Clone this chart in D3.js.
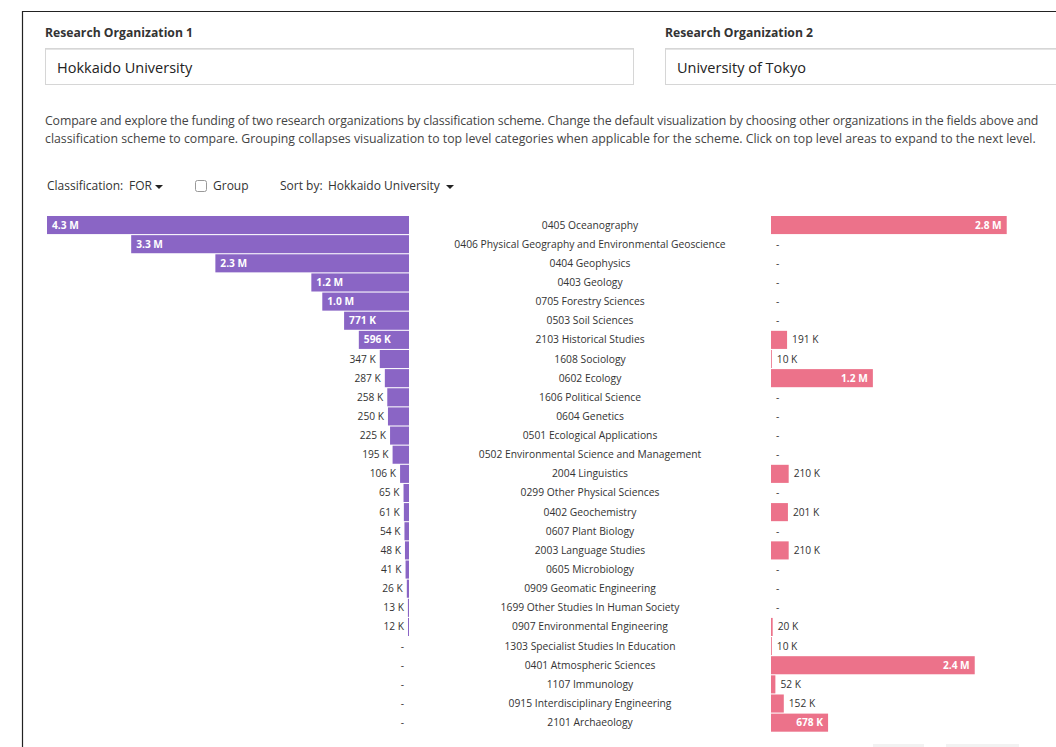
<!DOCTYPE html>
<html>
<head>
<meta charset="utf-8">
<script src="https://cdn.jsdelivr.net/npm/d3@7"></script>
<style>
  html, body { margin: 0; padding: 0; background: #fff; }
  svg { display: block; font-family: "Open Sans", "Noto Sans", sans-serif; }
</style>
</head>
<body>
<svg id="chart" width="1056" height="747"></svg>
<script>
const org1 = "Hokkaido University";
const org2 = "University of Tokyo";

const categories = [
  "0405 Oceanography",
  "0406 Physical Geography and Environmental Geoscience",
  "0404 Geophysics",
  "0403 Geology",
  "0705 Forestry Sciences",
  "0503 Soil Sciences",
  "2103 Historical Studies",
  "1608 Sociology",
  "0602 Ecology",
  "1606 Political Science",
  "0604 Genetics",
  "0501 Ecological Applications",
  "0502 Environmental Science and Management",
  "2004 Linguistics",
  "0299 Other Physical Sciences",
  "0402 Geochemistry",
  "0607 Plant Biology",
  "2003 Language Studies",
  "0605 Microbiology",
  "0909 Geomatic Engineering",
  "1699 Other Studies In Human Society",
  "0907 Environmental Engineering",
  "1303 Specialist Studies In Education",
  "0401 Atmospheric Sciences",
  "1107 Immunology",
  "0915 Interdisciplinary Engineering",
  "2101 Archaeology"
];

const org1Values = [
  4300000, 3300000, 2300000, 1160000, 1030000, 771000, 596000, 347000, 287000,
  258000, 250000, 225000, 195000, 106000, 65000, 61000, 54000, 48000, 41000,
  26000, 13000, 12000, 0, 0, 0, 0, 0
];

const org2Values = [
  2800000, 0, 0, 0, 0, 0, 191000, 10000, 1210000,
  0, 0, 0, 0, 210000, 0, 201000, 0, 210000, 0,
  0, 0, 20000, 10000, 2420000, 52000, 152000, 678000
];

const introLines = [
  "Compare and explore the funding of two research organizations by classification scheme. Change the default visualization by choosing other organizations in the fields above and",
  "classification scheme to compare. Grouping collapses visualization to top level categories when applicable for the scheme. Click on top level areas to expand to the next level."
];

const svg = d3.select("#chart");
const purple = "#8a65c5";
const pink = "#ec728a";

// frame
svg.append("line").attr("x1", 22.5).attr("x2", 22.5).attr("y1", 11).attr("y2", 747).attr("stroke", "#222").attr("stroke-width", 1.2);
svg.append("line").attr("x1", 22).attr("x2", 1056).attr("y1", 11.5).attr("y2", 11.5).attr("stroke", "#222").attr("stroke-width", 1.2);

// header fields
const fields = [{label: "Research Organization 1", value: org1, x: 45, w: 588},
                {label: "Research Organization 2", value: org2, x: 665, w: 420}];
fields.forEach(f => {
  svg.append("text").attr("x", f.x).attr("y", 37).attr("font-size", 12.2).attr("font-weight", 700)
    .attr("fill", "#333").text(f.label);
  svg.append("rect").attr("x", f.x + 0.5).attr("y", 48.5).attr("width", f.w).attr("height", 36)
    .attr("fill", "#fff").attr("stroke", "#d6d6d6");
  svg.append("line").attr("x1", f.x + 1).attr("x2", f.x + f.w).attr("y1", 49.5).attr("y2", 49.5)
    .attr("stroke", "#e4e4e4");
  svg.append("text").attr("x", f.x + 12).attr("y", 73).attr("font-size", 14.5)
    .attr("fill", "#222").text(f.value);
});

// intro
introLines.forEach((t, i) => {
  const tx = svg.append("text").attr("x", 45).attr("y", 125 + i * 18).attr("font-size", 12.3)
    .attr("fill", "#444").text(t);
  if (i === 0) tx.attr("letter-spacing", -0.13);
});

// controls
const ctrl = svg.append("g").attr("font-size", 12).attr("fill", "#333");
ctrl.append("text").attr("x", 47).attr("y", 190).text("Classification:");
ctrl.append("text").attr("x", 129).attr("y", 190).text("FOR");
ctrl.append("path").attr("d", "M155,185 h8 l-4,4 z").attr("fill", "#222");
ctrl.append("rect").attr("x", 195.5).attr("y", 180.5).attr("width", 11).attr("height", 11).attr("rx", 2)
  .attr("fill", "#fff").attr("stroke", "#999");
ctrl.append("text").attr("x", 213).attr("y", 190).text("Group");
ctrl.append("text").attr("x", 280).attr("y", 190).text("Sort by:");
ctrl.append("text").attr("x", 328).attr("y", 190).text(org1);
ctrl.append("path").attr("d", "M446,185 h8 l-4,4 z").attr("fill", "#222");

// scales
const y = d3.scaleBand().domain(categories).range([216, 731.7]).paddingInner(0.055).paddingOuter(0);
const maxV = d3.max(org1Values.concat(org2Values));
const x = d3.scaleLinear().domain([0, maxV]).range([0, 362]);
const leftX0 = 409, rightX0 = 771, midX = 590;
const fmt = v => v >= 1e6 ? (v / 1e6).toFixed(1) + " M" : Math.round(v / 1e3) + " K";
const insideMin = 40;
const inside = v => v > 0 && x(v) >= insideMin;

const rows = categories.map((c, i) => ({c, a: org1Values[i], b: org2Values[i]}));

// left bars
const gL = svg.append("g");
gL.selectAll("rect").data(rows.filter(d => d.a > 0)).join("rect")
  .attr("x", d => leftX0 - x(d.a)).attr("y", d => y(d.c))
  .attr("width", d => x(d.a)).attr("height", y.bandwidth()).attr("fill", purple);
gL.selectAll("text").data(rows).join("text")
  .attr("y", d => y(d.c) + y.bandwidth() / 2 + 3.5)
  .attr("font-size", 10.2)
  .attr("font-weight", d => inside(d.a) ? 700 : 400)
  .attr("x", d => d.a === 0 ? leftX0 - 5 : (inside(d.a) ? leftX0 - x(d.a) + 5 : leftX0 - x(d.a) - 4))
  .attr("text-anchor", d => inside(d.a) ? "start" : "end")
  .attr("fill", d => inside(d.a) ? "#fff" : "#333")
  .text(d => d.a === 0 ? "-" : fmt(d.a));

// right bars
const gR = svg.append("g");
gR.selectAll("rect").data(rows.filter(d => d.b > 0)).join("rect")
  .attr("x", rightX0).attr("y", d => y(d.c))
  .attr("width", d => x(d.b)).attr("height", y.bandwidth()).attr("fill", pink);
gR.selectAll("text").data(rows).join("text")
  .attr("y", d => y(d.c) + y.bandwidth() / 2 + 3.5)
  .attr("font-size", 10.2)
  .attr("font-weight", d => inside(d.b) ? 700 : 400)
  .attr("x", d => d.b === 0 ? rightX0 + 5 : (inside(d.b) ? rightX0 + x(d.b) - 5 : rightX0 + x(d.b) + 5))
  .attr("text-anchor", d => inside(d.b) ? "end" : "start")
  .attr("fill", d => inside(d.b) ? "#fff" : "#333")
  .text(d => d.b === 0 ? "-" : fmt(d.b));

// category labels
svg.append("g").selectAll("text").data(categories).join("text")
  .attr("x", midX).attr("y", d => y(d) + y.bandwidth() / 2 + 3.5)
  .attr("text-anchor", "middle").attr("font-size", 10.3).attr("fill", "#333")
  .text(d => d);

// faint buttons at bottom
svg.append("rect").attr("x", 873).attr("y", 744).attr("width", 51).attr("height", 5).attr("fill", "#f2f2f2");
svg.append("rect").attr("x", 946).attr("y", 744).attr("width", 73).attr("height", 5).attr("fill", "#f2f2f2");
</script>
</body>
</html>
